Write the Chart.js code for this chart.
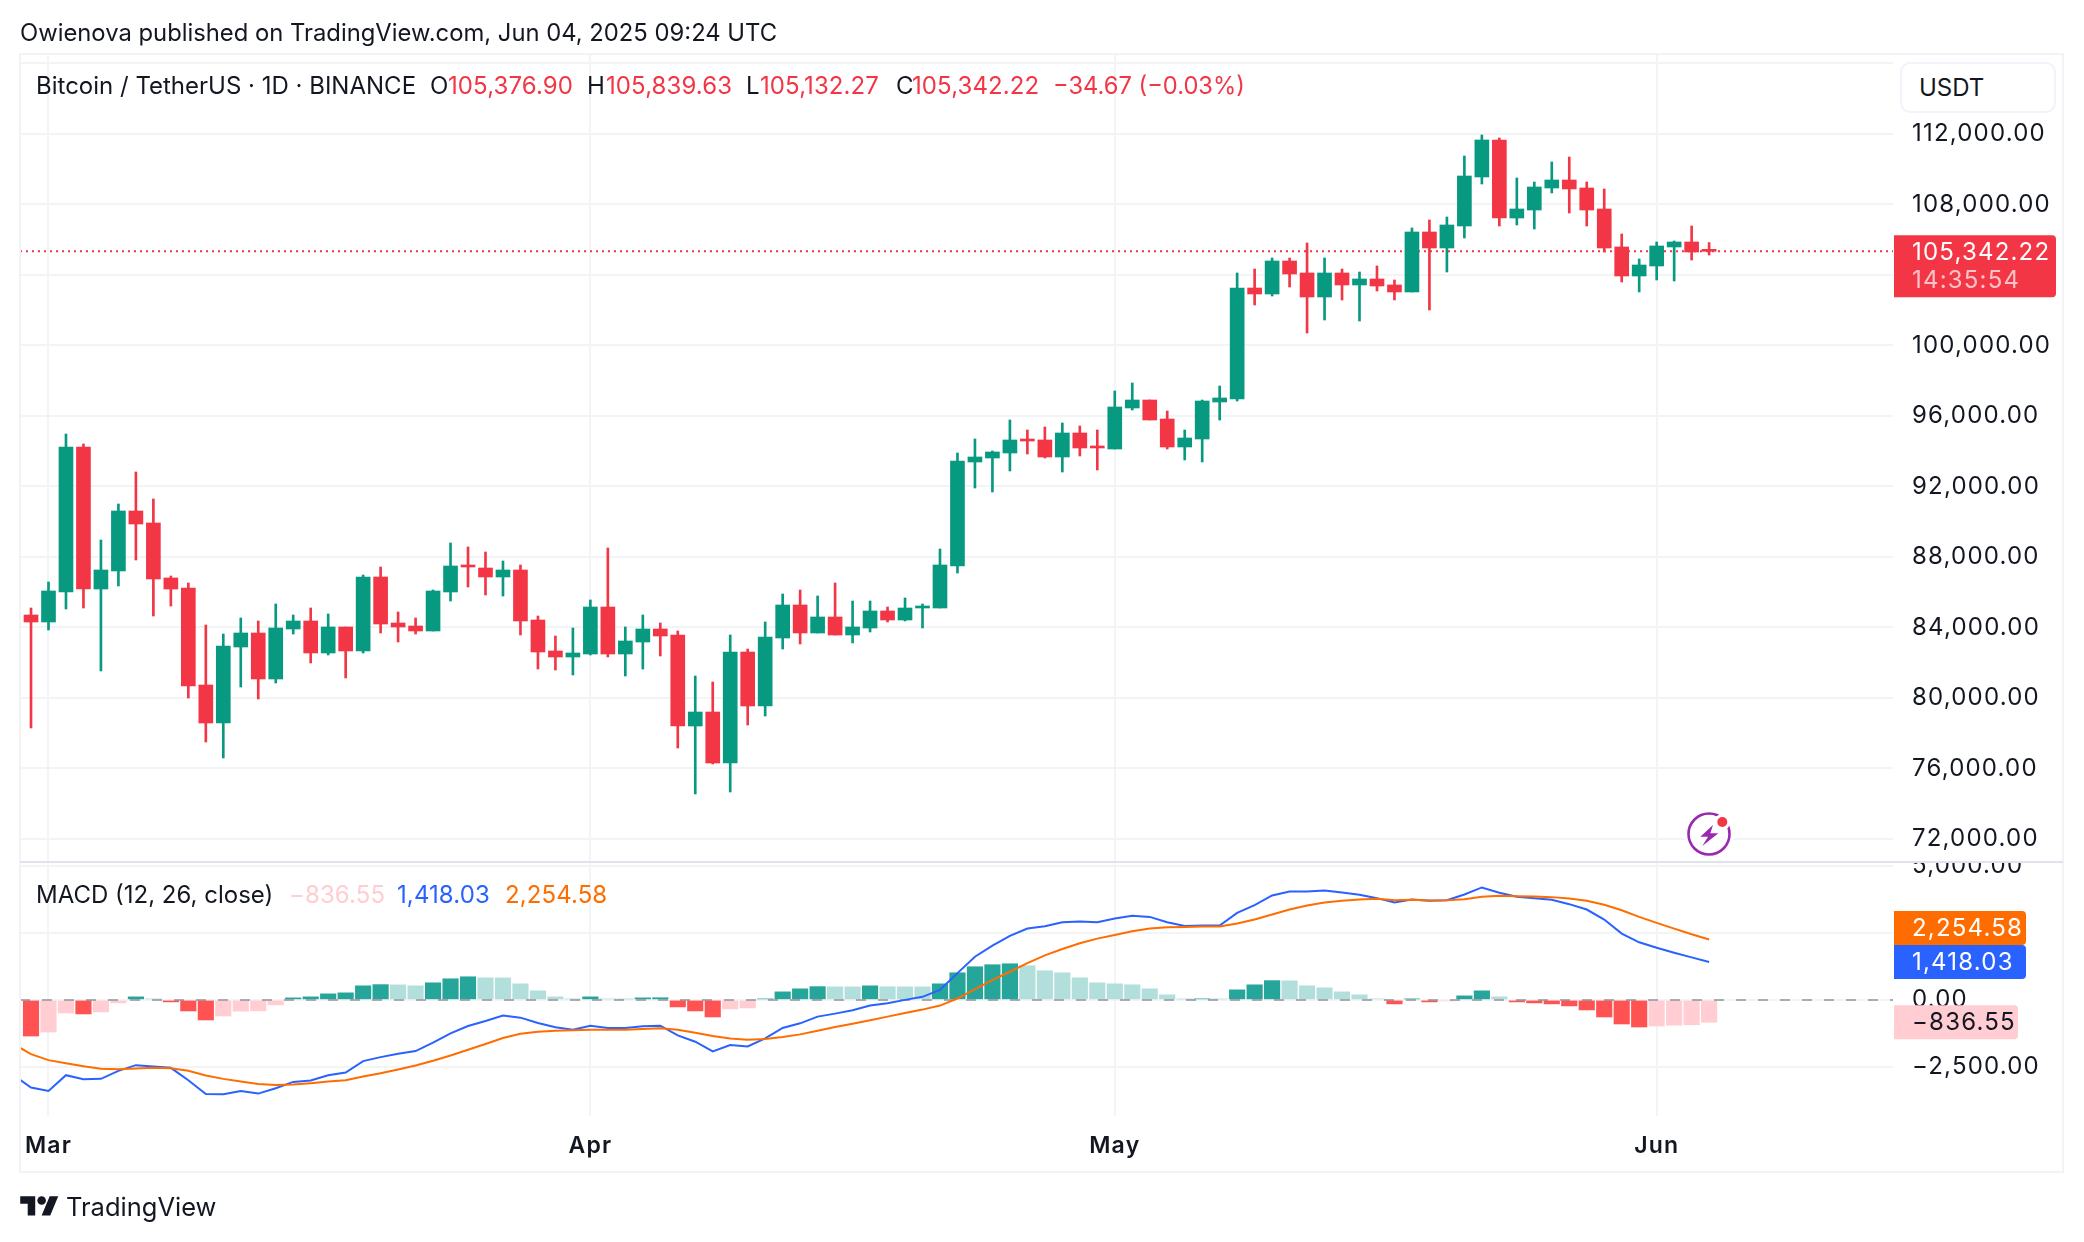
<!DOCTYPE html>
<html>
<head>
<meta charset="utf-8">
<title>Bitcoin / TetherUS</title>
<script src="https://cdn.jsdelivr.net/npm/chart.js@4"></script>
<style>
  body { margin: 0; background: #fff; }
  #page { position: relative; width: 2084px; height: 1242px; overflow: hidden; font-family: Inter, sans-serif; color: #131722; }
  canvas { position: absolute; left: 0; top: 0; }
  .t { position: absolute; white-space: nowrap; font-size: 24px; line-height: 30px; transform: translateY(-50%); }
  .n { letter-spacing: 0.1px; }
  .red { color: #f23645; }
  #usdt { position: absolute; left: 1900px; top: 62px; width: 156px; height: 51px; box-sizing: border-box; border: 2px solid #f0f3fa; border-radius: 10px; background: #fff; font-size: 24px; line-height: 47px; padding-left: 17px; }
  svg { position: absolute; }
</style>
</head>
<body>
<div id="page">
  <canvas id="chart" width="2084" height="1242"></canvas>

  <div class="t" style="left:20px;top:33px;font-size:23.8px">Owienova published on TradingView.com, Jun 04, 2025 09:24 UTC</div>

  <div class="t" style="left:36px;top:86px">Bitcoin / TetherUS · 1D · BINANCE</div>
  <div class="t" style="left:430px;top:86px">O</div><div class="t red n" style="left:448px;top:86px">105,376.90</div>
  <div class="t" style="left:587px;top:86px">H</div><div class="t red n" style="left:606px;top:86px">105,839.63</div>
  <div class="t" style="left:746px;top:86px">L</div><div class="t red n" style="left:760px;top:86px">105,132.27</div>
  <div class="t" style="left:896px;top:86px">C</div><div class="t red n" style="left:912px;top:86px">105,342.22</div>
  <div class="t red" style="left:1053px;top:86px;font-size:23.7px">−34.67 (−0.03%)</div>

  <div class="t" style="left:36px;top:895px">MACD (12, 26, close)</div>
  <div class="t n" style="left:289px;top:895px;color:#ffcdd2">−836.55</div>
  <div class="t n" style="left:397px;top:895px;color:#2962ff">1,418.03</div>
  <div class="t n" style="left:505px;top:895px;color:#ff6d00">2,254.58</div>

  <div id="usdt">USDT</div>

  <!-- icono de alerta -->
  <svg style="left:1684px;top:809px" width="50" height="50" viewBox="0 0 50 50">
    <circle cx="25" cy="25" r="25" fill="#fff"/>
    <circle cx="25" cy="25" r="20.5" fill="none" stroke="#9c27b0" stroke-width="2.6"/>
    <polygon points="29,16 16.3,27.7 24,27.7 18.3,37 34.3,24.3 26.3,24.3" fill="#9c27b0"/>
    <circle cx="38.3" cy="13" r="8" fill="#fff"/>
    <circle cx="38.3" cy="13" r="5" fill="#f23645"/>
  </svg>

  <!-- logo -->
  <svg style="left:20px;top:1192px" width="39" height="30" viewBox="0 0 36 28">
    <path d="M14 22H7V11H0V4h14v18zM28 22h-8l7.5-18h8L28 22z" fill="#131722"/>
    <circle cx="20" cy="8" r="4" fill="#131722"/>
  </svg>
  <div class="t" style="left:66px;top:1207px;font-size:25.5px">TradingView</div>
</div>

<script>
// Velas diarias desde el 28 de febrero hasta el 4 de junio de 2025
const opens = [
  84708, 84311, 86013, 94240, 86183, 87205, 90609, 89928, 86808, 86240,
  80736, 78580, 82892, 83687, 81077, 83914, 84368, 82552, 84027, 82666,
  86864, 84254, 84084, 83800, 86013, 87545, 87375, 86864, 87261, 84424,
  82666, 82325, 82495, 85162, 82495, 83176, 83914, 83573, 78410, 79204,
  76311, 82609, 79545, 83403, 85276, 83687, 84595, 83573, 83971, 84935,
  84424, 85105, 85105, 87488, 93389, 93616, 93900, 94694, 94638, 93673,
  95035, 94297, 94127, 96453, 96907, 95829, 94241, 94694, 96794, 96964,
  103262, 102922, 104794, 104114, 102752, 104114, 103433, 103773, 103433, 103036,
  106440, 105532, 106780, 109561, 111660, 107234, 107688, 108936, 109390, 108936,
  107745, 105589, 103943, 104511, 105589, 105873, 105376.90
];
const highs = [
  85105, 86581, 94978, 94410, 88964, 91006, 92822, 91290, 86921, 86524,
  84141, 83630, 84538, 84368, 85332, 84708, 85105, 84765, 84027, 86978,
  87432, 84878, 84538, 86127, 88793, 88566, 88283, 87772, 87545, 84651,
  83517, 83971, 85559, 88510, 84027, 84708, 84254, 83800, 81247, 80907,
  83573, 82779, 84311, 85900, 86127, 85786, 86524, 85502, 85502, 85162,
  85673, 85332, 88453, 93900, 94694, 94014, 95773, 95205, 95375, 95602,
  95432, 95205, 97418, 97872, 96907, 96283, 95205, 96907, 97702, 104113,
  104340, 104964, 104964, 105815, 104965, 104340, 104170, 104511, 103716, 106667,
  107121, 107291, 110752, 111943, 111773, 109504, 109277, 110412, 110695, 109277,
  108880, 106326, 104908, 105873, 105929, 106780, 105839.63
];
const lows = [
  78297, 83857, 85049, 85105, 81531, 86354, 87829, 84651, 85219, 79999,
  77502, 76594, 80623, 79942, 80850, 83630, 81985, 82439, 81134, 82552,
  83687, 83176, 83630, 83800, 85502, 86297, 85843, 85786, 83573, 81644,
  81587, 81304, 82439, 82325, 81247, 81644, 82382, 77162, 74552, 76254,
  74665, 78467, 78977, 82779, 83063, 83687, 83573, 83119, 83744, 84311,
  84368, 83971, 85105, 87091, 91914, 91687, 92879, 93843, 93616, 92822,
  93730, 92936, 94127, 96340, 95773, 94127, 93503, 93390, 95773, 96850,
  102298, 102808, 103319, 100709, 101447, 102582, 101390, 103092, 102582, 103036,
  102014, 104170, 106099, 109163, 106780, 106837, 106610, 108653, 107518, 106780,
  105305, 103603, 103036, 103716, 103660, 104851, 105132.27
];
const closes = [
  84311, 86070, 94240, 86183, 87261, 90609, 89871, 86751, 86183, 80680,
  78580, 82949, 83687, 81077, 83971, 84368, 82552, 84027, 82666, 86864,
  84197, 84027, 83800, 86070, 87488, 87432, 86864, 87261, 84368, 82609,
  82325, 82552, 85162, 82495, 83233, 83914, 83517, 78410, 79204, 76311,
  82609, 79545, 83460, 85276, 83687, 84595, 83573, 84027, 84935, 84424,
  85105, 85219, 87545, 93446, 93673, 93957, 94638, 94581, 93673, 95035,
  94184, 94184, 96510, 96907, 95773, 94241, 94751, 96850, 97021, 103262,
  102922, 104794, 104056, 102752, 104114, 103433, 103773, 103376, 103036, 106440,
  105532, 106837, 109617, 111660, 107234, 107745, 108993, 109390, 108880, 107688,
  105532, 103943, 104567, 105646, 105873, 105305, 105342.22
];

// MACD: el histograma empieza en la primera vela, las lineas una vela antes
const histogram = [
  -1350, -1200, -488, -525, -450, -113, 113, 38, -75, -413,
  -750, -600, -420, -410, -188, 75, 113, 225, 263, 525,
  570, 560, 525, 638, 788, 863, 825, 820, 600, 338,
  113, 38, 113, 38, 30, 75, 80, -263, -413, -638,
  -338, -300, 38, 300, 413, 495, 488, 485, 525, 490,
  488, 485, 600, 1013, 1238, 1313, 1350, 1275, 1088, 1013,
  825, 638, 600, 563, 413, 188, 30, 40, 35, 375,
  563, 720, 710, 525, 450, 300, 188, 38, -150, 38,
  -75, -38, 150, 338, 113, -75, -113, -150, -225, -375,
  -638, -900, -1013, -975, -945, -930, -836.55
];
const macdLine = [
  -2813,
  -3275, -3400, -2813, -2963, -2950, -2650, -2438, -2488, -2538, -3000,
  -3513, -3525, -3400, -3500, -3300, -3063, -3013, -2813, -2713, -2288,
  -2138, -2013, -1913, -1600, -1250, -975, -788, -588, -663, -863,
  -1025, -1113, -963, -1050, -1050, -988, -963, -1325, -1563, -1925,
  -1688, -1738, -1438, -1050, -875, -625, -513, -388, -213, -125,
  0, 113, 375, 1000, 1613, 2025, 2388, 2663, 2750, 2900,
  2925, 2900, 3038, 3138, 3100, 2900, 2763, 2775, 2775, 3250,
  3538, 3900, 4050, 4050, 4088, 4013, 3925, 3800, 3638, 3750,
  3700, 3725, 3938, 4200, 4000, 3850, 3800, 3738, 3575, 3375,
  3000, 2475, 2150, 1950, 1763, 1588, 1418.03
];
const signalLine = [
  -1650,
  -2025, -2250, -2363, -2475, -2575, -2588, -2563, -2538, -2550, -2650,
  -2825, -2950, -3050, -3138, -3175, -3163, -3113, -3050, -3000, -2863,
  -2738, -2600, -2450, -2275, -2075, -1863, -1650, -1425, -1263, -1188,
  -1150, -1138, -1113, -1113, -1113, -1088, -1063, -1113, -1225, -1350,
  -1438, -1488, -1463, -1388, -1288, -1150, -1013, -888, -763, -625,
  -488, -363, -213, 50, 400, 738, 1050, 1375, 1663, 1900,
  2113, 2288, 2425, 2563, 2663, 2713, 2725, 2738, 2738, 2850,
  3000, 3188, 3375, 3525, 3638, 3700, 3750, 3775, 3725, 3738,
  3713, 3725, 3763, 3850, 3888, 3875, 3863, 3838, 3788, 3700,
  3550, 3350, 3100, 2875, 2663, 2450, 2254.58
];

// Etiquetas de los ejes
const priceTicks = [116000, 112000, 108000, 104000, 100000, 96000, 92000, 88000, 84000, 80000, 76000, 72000];
const macdTicks = [5000, 2500, 0, -2500];
const monthTicks = [1, 32, 62, 93];
const monthLabels = ['Mar', 'Apr', 'May', 'Jun'];
const countdown = '14:35:54';

const GREEN = '#089981';
const RED = '#f23645';
const GRID = '#f3f4f6';
const AXIS_TEXT = '#131722';
const X_MIN = -0.63;
const X_MAX = 106.52;

const lastClose = closes[closes.length - 1];
const lastHist = histogram[histogram.length - 1];
const lastMacd = macdLine[macdLine.length - 1];
const lastSignal = signalLine[signalLine.length - 1];

function fmt(v) {
  return v.toLocaleString('en-US', { minimumFractionDigits: 2, maximumFractionDigits: 2 }).replace('-', '−');
}

// Color del histograma segun signo y si sube o baja respecto a la barra anterior
function histColor(v, i) {
  const rising = i > 0 ? v > histogram[i - 1] : false;
  if (v >= 0) return (rising || i === 0) ? '#26a69a' : '#b2dfdb';
  return rising ? '#ffcdd2' : '#ff5252';
}

const candleColors = closes.map((c, i) => (c >= opens[i] ? GREEN : RED));

// Dibuja una etiqueta de valor en el eje derecho
function drawPill(ctx, axis, centerY, width, height, bg, color, text) {
  ctx.fillStyle = bg;
  ctx.beginPath();
  ctx.roundRect(axis.left + 1, centerY - height / 2, width, height, [0, 4, 4, 0]);
  ctx.fill();
  ctx.fillStyle = color;
  ctx.textBaseline = 'middle';
  ctx.textAlign = 'left';
  ctx.fillText(text, axis.left + 19, centerY + 1);
}

const overlayPlugin = {
  id: 'overlay',
  // los rotulos del eje van algo mas espaciados que Inter
  beforeDraw(chart) {
    chart.ctx.letterSpacing = '1.2px';
  },
  afterDraw(chart) {
    const ctx = chart.ctx;
    const yPrice = chart.scales.y;
    const yMacd = chart.scales.yMacd;
    const xAxis = chart.scales.x;
    ctx.save();

    // el rotulo 5,000.00 queda cortado por el borde del panel
    ctx.fillStyle = '#fff';
    ctx.fillRect(yMacd.left + 2, yMacd.top - 12, yMacd.width - 4, 12);

    ctx.strokeStyle = '#f1f3f6';
    ctx.lineWidth = 2;
    ctx.strokeRect(chart.chartArea.left, chart.chartArea.top, yMacd.right - chart.chartArea.left, xAxis.bottom - chart.chartArea.top);

    ctx.strokeStyle = '#e0e3eb';
    ctx.beginPath();
    ctx.moveTo(chart.chartArea.left, yMacd.top);
    ctx.lineTo(yMacd.right, yMacd.top);
    ctx.stroke();

    ctx.font = '24px Inter';
    const priceY = yPrice.getPixelForValue(lastClose);
    ctx.fillStyle = RED;
    ctx.beginPath();
    ctx.roundRect(yPrice.left + 1, priceY - 16, 162, 62, [0, 4, 4, 0]);
    ctx.fill();
    ctx.textBaseline = 'middle';
    ctx.textAlign = 'left';
    ctx.fillStyle = '#fff';
    ctx.fillText(fmt(lastClose), yPrice.left + 19, priceY + 1);
    ctx.fillStyle = 'rgba(255,255,255,0.7)';
    ctx.fillText(countdown, yPrice.left + 19, priceY + 29);

    const macdY = yMacd.getPixelForValue(lastMacd);
    const signalY = Math.min(yMacd.getPixelForValue(lastSignal), macdY - 34);
    drawPill(ctx, yMacd, signalY, 132, 34, '#ff6d00', '#fff', fmt(lastSignal));
    drawPill(ctx, yMacd, macdY, 132, 34, '#2962ff', '#fff', fmt(lastMacd));
    drawPill(ctx, yMacd, yMacd.getPixelForValue(lastHist), 124, 34, '#ffcdd2', '#131722', fmt(lastHist));

    ctx.restore();
  }
};

function fixedWidth(scale) { scale.width = 170; }

new Chart(document.getElementById('chart'), {
  type: 'bar',
  data: {
    datasets: [
      {
        type: 'line',
        data: [{ x: X_MIN, y: lastClose }, { x: X_MAX, y: lastClose }],
        yAxisID: 'y',
        borderColor: RED,
        borderWidth: 2,
        borderDash: [2, 4],
        pointRadius: 0,
        order: 5
      },
      {
        data: lows.map((l, i) => ({ x: i, y: [l, highs[i]] })),
        yAxisID: 'y',
        backgroundColor: candleColors,
        barThickness: 2,
        grouped: false,
        order: 4
      },
      {
        data: opens.map((o, i) => ({ x: i, y: [o, closes[i]] })),
        yAxisID: 'y',
        backgroundColor: candleColors,
        barThickness: 14,
        minBarLength: 2,
        grouped: false,
        order: 3
      },
      {
        data: histogram.map((v, i) => ({ x: i, y: v })),
        yAxisID: 'yMacd',
        backgroundColor: histogram.map(histColor),
        barThickness: 15.5,
        grouped: false,
        order: 5
      },
      {
        type: 'line',
        data: [{ x: X_MIN, y: 0 }, { x: X_MAX, y: 0 }],
        yAxisID: 'yMacd',
        borderColor: 'rgba(120,123,134,0.6)',
        borderWidth: 2,
        borderDash: [10, 12],
        pointRadius: 0,
        order: 4
      },
      {
        type: 'line',
        data: macdLine.map((v, i) => ({ x: i - 1, y: v })),
        yAxisID: 'yMacd',
        borderColor: '#2962ff',
        borderWidth: 2,
        pointRadius: 0,
        order: 2
      },
      {
        type: 'line',
        data: signalLine.map((v, i) => ({ x: i - 1, y: v })),
        yAxisID: 'yMacd',
        borderColor: '#ff6d00',
        borderWidth: 2,
        pointRadius: 0,
        order: 1
      }
    ]
  },
  options: {
    responsive: false,
    devicePixelRatio: 1,
    animation: false,
    layout: { padding: { left: 20, top: 54, right: 21, bottom: 70 } },
    plugins: { legend: { display: false }, tooltip: { enabled: false } },
    scales: {
      x: {
        type: 'linear',
        min: X_MIN,
        max: X_MAX,
        offset: false,
        grid: { color: GRID, lineWidth: 2, offset: false, drawTicks: false },
        border: { display: false },
        afterBuildTicks(scale) { scale.ticks = monthTicks.map(v => ({ value: v })); },
        afterFit(scale) { scale.height = 56; },
        ticks: {
          autoSkip: false,
          maxRotation: 0,
          padding: 16,
          color: AXIS_TEXT,
          font: { family: 'Inter', size: 23, weight: '600' },
          callback(value, index) { return monthLabels[index]; }
        }
      },
      y: {
        type: 'linear',
        position: 'right',
        stack: 'panes',
        stackWeight: 808,
        weight: 1,
        min: 70693,
        max: 116539,
        grid: { color: GRID, lineWidth: 2, drawTicks: false },
        border: { display: false },
        afterBuildTicks(scale) { scale.ticks = priceTicks.map(v => ({ value: v })); },
        afterFit: fixedWidth,
        ticks: {
          autoSkip: false,
          padding: 19,
          color: AXIS_TEXT,
          font: { family: 'Inter', size: 24 },
          callback(value) { return value === priceTicks[0] ? '' : fmt(value); }
        }
      },
      yMacd: {
        type: 'linear',
        position: 'right',
        stack: 'panes',
        stackWeight: 254,
        weight: 2,
        min: -4337,
        max: 5150,
        grid: { color: GRID, lineWidth: 2, drawTicks: false },
        border: { display: false },
        afterBuildTicks(scale) { scale.ticks = macdTicks.map(v => ({ value: v })); },
        afterFit: fixedWidth,
        ticks: {
          autoSkip: false,
          padding: 19,
          color: AXIS_TEXT,
          font: { family: 'Inter', size: 24 },
          callback(value) { return fmt(value); }
        }
      }
    }
  },
  plugins: [overlayPlugin]
});
</script>
</body>
</html>
